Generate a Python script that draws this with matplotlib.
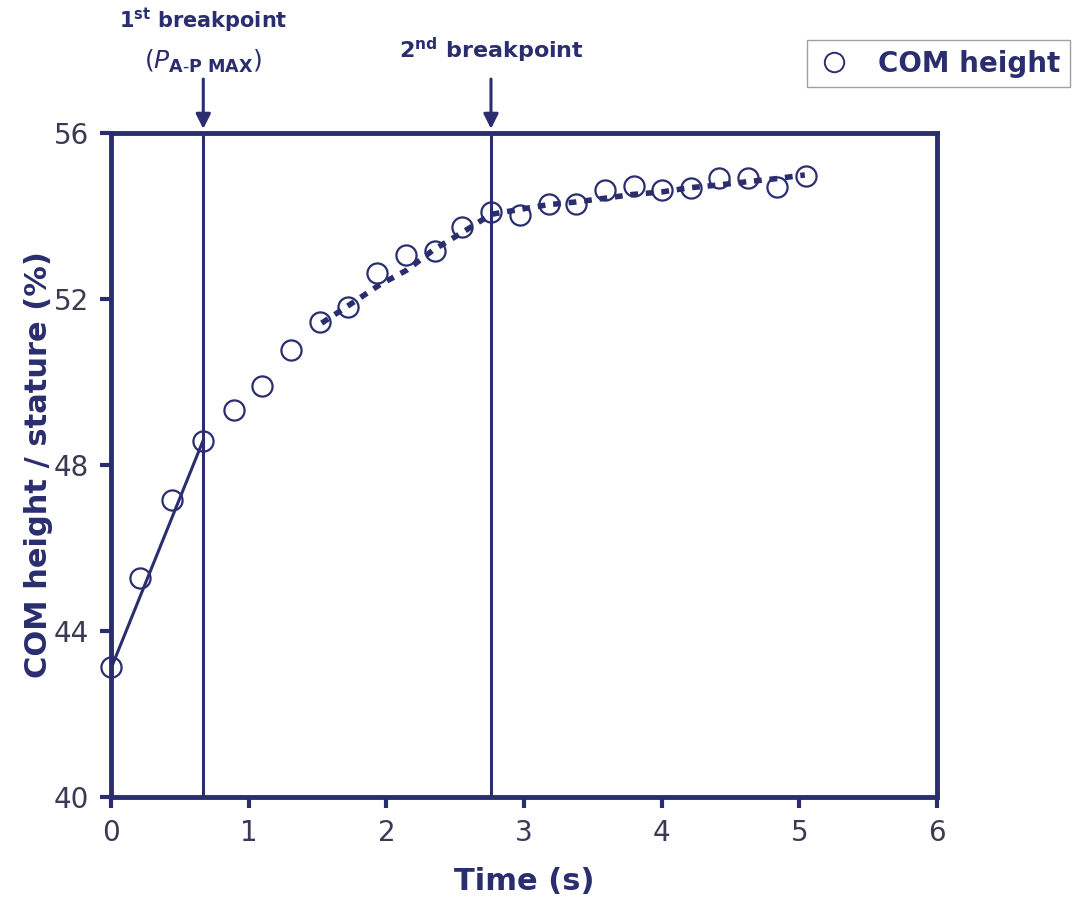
import matplotlib
matplotlib.use('Agg')
import matplotlib.pyplot as plt
from matplotlib.lines import Line2D

# ---------------------------------------------------------------------------
# data
# ---------------------------------------------------------------------------
time_s = [0.0, 0.21, 0.44, 0.67, 0.89, 1.10, 1.31, 1.52, 1.72, 1.93, 2.14,
          2.35, 2.55, 2.76, 2.97, 3.18, 3.38, 3.59, 3.80, 4.00, 4.21, 4.42,
          4.63, 4.84, 5.05]
com_height = [43.13, 45.28, 47.16, 48.58, 49.33, 49.90, 50.77, 51.45, 51.80,
              52.63, 53.06, 53.16, 53.73, 54.10, 54.02, 54.29, 54.29, 54.63,
              54.72, 54.63, 54.67, 54.92, 54.92, 54.70, 54.96]

# first (linear) phase fit
lin_x = [0.0, 0.67]
lin_y = [43.1, 48.6]

# second phase curve fit (dotted)
fit_x = [1.53, 1.71, 1.95, 2.15, 2.34, 2.56, 2.76, 2.97, 3.17, 3.38, 3.59,
         3.79, 4.00, 4.20, 4.42, 4.63, 4.83, 5.04]
fit_y = [51.42, 51.81, 52.34, 52.70, 53.18, 53.62, 54.04, 54.16, 54.27, 54.34,
         54.43, 54.52, 54.58, 54.68, 54.75, 54.83, 54.90, 54.99]

breakpoints = [0.67, 2.76]

x_ticks = [0, 1, 2, 3, 4, 5, 6]
y_ticks = [40, 44, 48, 52, 56]

NAVY = '#2a2d6e'
TICK_COLOR = '#3a3a55'

# ---------------------------------------------------------------------------
# figure
# ---------------------------------------------------------------------------
fig = plt.figure(figsize=(10.75, 9.08), dpi=100)
ax = fig.add_axes([0.1033, 0.1222, 0.7683, 0.7313])

ax.plot(lin_x, lin_y, '-', color=NAVY, lw=2.2, zorder=3)
ax.plot(fit_x, fit_y, color=NAVY, lw=4, linestyle=(0, (1.4, 1.4)), zorder=3)
ax.plot(time_s, com_height, 'o', ms=14.5, mfc='none', mec=NAVY, mew=1.6,
        zorder=4, clip_on=False)

for bp in breakpoints:
    ax.axvline(bp, color=NAVY, lw=2.2, zorder=2)

ax.set_xlim(0, 6)
ax.set_ylim(40, 56)
ax.set_xticks(x_ticks)
ax.set_yticks(y_ticks)

for sp in ax.spines.values():
    sp.set_color(NAVY)
    sp.set_linewidth(3.5)

ax.tick_params(direction='out', length=8, width=3, color=NAVY,
               labelcolor=TICK_COLOR, labelsize=20, pad=8)

ax.set_xlabel('Time (s)', fontsize=22, fontweight='bold', color=NAVY,
              labelpad=14)
ax.set_ylabel('COM height / stature (%)', fontsize=22, fontweight='bold',
              color=NAVY, labelpad=0)

# breakpoint annotations
arrow = dict(arrowstyle='-|>', color=NAVY, lw=2.2, mutation_scale=22,
             shrinkA=0, shrinkB=0)
ax.annotate('', xy=(breakpoints[0], 56.1), xytext=(breakpoints[0], 57.3),
            arrowprops=arrow, annotation_clip=False)
ax.annotate('', xy=(breakpoints[1], 56.1), xytext=(breakpoints[1], 57.3),
            arrowprops=arrow, annotation_clip=False)

ax.text(breakpoints[0], 58.72, r'1$^{\mathbf{st}}$ breakpoint', ha='center',
        va='center', fontsize=15, fontweight='bold', color=NAVY, clip_on=False)
ax.text(breakpoints[0], 57.72, r'$(P_{\mathbf{A\text{-}P\ MAX}})$',
        ha='center', va='center', fontsize=18, color=NAVY, clip_on=False)
ax.text(breakpoints[1], 57.98, r'2$^{\mathbf{nd}}$ breakpoint', ha='center',
        va='center', fontsize=16, fontweight='bold', color=NAVY, clip_on=False)

# legend
handle = Line2D([], [], marker='o', ls='none', ms=14, mfc='none', mec=NAVY,
                mew=1.4)
leg = fig.legend([handle], ['COM height'], loc='upper right',
                 bbox_to_anchor=(1070 / 1075, 1 - 40 / 908), frameon=True,
                 fancybox=False, edgecolor='#888888', fontsize=20,
                 handlelength=1.2, handletextpad=1.0, borderpad=0.35,
                 borderaxespad=0)
for t in leg.get_texts():
    t.set_color(NAVY)
    t.set_fontweight('bold')

fig.savefig('out.png', dpi=100)
